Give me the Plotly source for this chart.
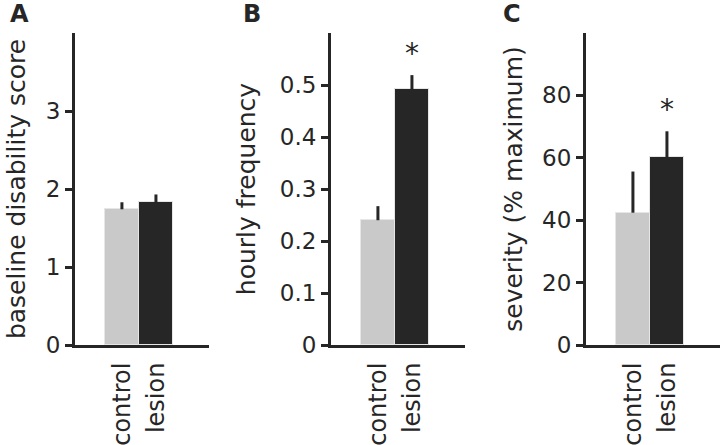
import plotly.graph_objects as go

categories = ["control", "lesion"]

disability = [1.74, 1.83]
disability_err = [0.09, 0.10]

hourly_freq = [0.240, 0.492]
hourly_freq_err = [0.027, 0.027]

severity = [42.4, 60.2]
severity_err = [13.2, 8.3]

y_titles = ["baseline disability score", "hourly frequency", "severity (% maximum)"]
panel_letters = ["A", "B", "C"]
y_ranges = [[0, 4], [0, 0.6], [0, 100]]
y_ticks = [[0, 1, 2, 3], [0, 0.1, 0.2, 0.3, 0.4, 0.5], [0, 20, 40, 60, 80]]
y_ticktext = [["0", "1", "2", "3"], ["0", "0.1", "0.2", "0.3", "0.4", "0.5"], ["0", "20", "40", "60", "80"]]
significant = [False, True, True]

W, H = 720, 445
FONT = "DejaVu Sans"
INK = "#262626"
bar_colors = ["#c9c9c9", "#262626"]

panels = [(disability, disability_err), (hourly_freq, hourly_freq_err), (severity, severity_err)]
x_domains_px = [(75, 209), (331, 465), (586, 720)]
title_standoffs = [14, 18, 13]
letter_x_px = [8, 241, 501]

fig = go.Figure()
for i, (vals, errs) in enumerate(panels):
    xa = "x" if i == 0 else f"x{i+1}"
    ya = "y" if i == 0 else f"y{i+1}"
    fig.add_trace(go.Bar(
        x=categories, y=vals, xaxis=xa, yaxis=ya,
        marker=dict(color=bar_colors, line=dict(color="#e6e6e6", width=1)),
        width=1.0,
        error_y=dict(type="data", array=errs, arrayminus=[0, 0], symmetric=False,
                     color=INK, thickness=3, width=0),
        showlegend=False,
    ))
    if significant[i]:
        fig.add_annotation(x=categories[1], y=vals[1] + errs[1], xref=xa, yref=ya,
                           text="*", showarrow=False, yanchor="bottom", yshift=3,
                           font=dict(family=FONT, size=28, color=INK))
    fig.add_annotation(x=letter_x_px[i] / W, y=1, xref="paper", yref="paper",
                       xanchor="left", yanchor="top", yshift=35,
                       text=f"<b>{panel_letters[i]}</b>", showarrow=False,
                       font=dict(family=FONT, size=24, color=INK))

layout = dict(
    width=W, height=H, template="none",
    paper_bgcolor="white", plot_bgcolor="white",
    margin=dict(l=0, r=0, t=33, b=100),
    bargap=0, barmode="group",
    font=dict(family=FONT, color=INK),
)
for i in range(3):
    xk = "xaxis" if i == 0 else f"xaxis{i+1}"
    yk = "yaxis" if i == 0 else f"yaxis{i+1}"
    xa = "x" if i == 0 else f"x{i+1}"
    ya = "y" if i == 0 else f"y{i+1}"
    d0, d1 = x_domains_px[i]
    layout[xk] = dict(
        domain=[d0 / W, d1 / W], anchor=ya, type="category",
        range=[-1.38, 2.56], showgrid=False, zeroline=False,
        showline=True, linewidth=3, linecolor=INK,
        ticks="", tickangle=-90, ticklabelstandoff=5,
        tickfont=dict(family=FONT, size=24, color=INK),
        fixedrange=True,
    )
    layout[yk] = dict(
        domain=[0, 1], anchor=xa, range=y_ranges[i],
        tickvals=y_ticks[i], ticktext=y_ticktext[i],
        showgrid=False, zeroline=False,
        showline=True, linewidth=3, linecolor=INK,
        ticks="outside", ticklen=7, tickwidth=3, tickcolor=INK,
        tickfont=dict(family=FONT, size=23, color=INK),
        title=dict(text=y_titles[i], standoff=title_standoffs[i],
                   font=dict(family=FONT, size=25, color=INK)),
        automargin=False,
    )
fig.update_layout(**layout)
fig.write_html("out.html", config={"displayModeBar": False},
               post_script="document.body.style.margin='0';")
